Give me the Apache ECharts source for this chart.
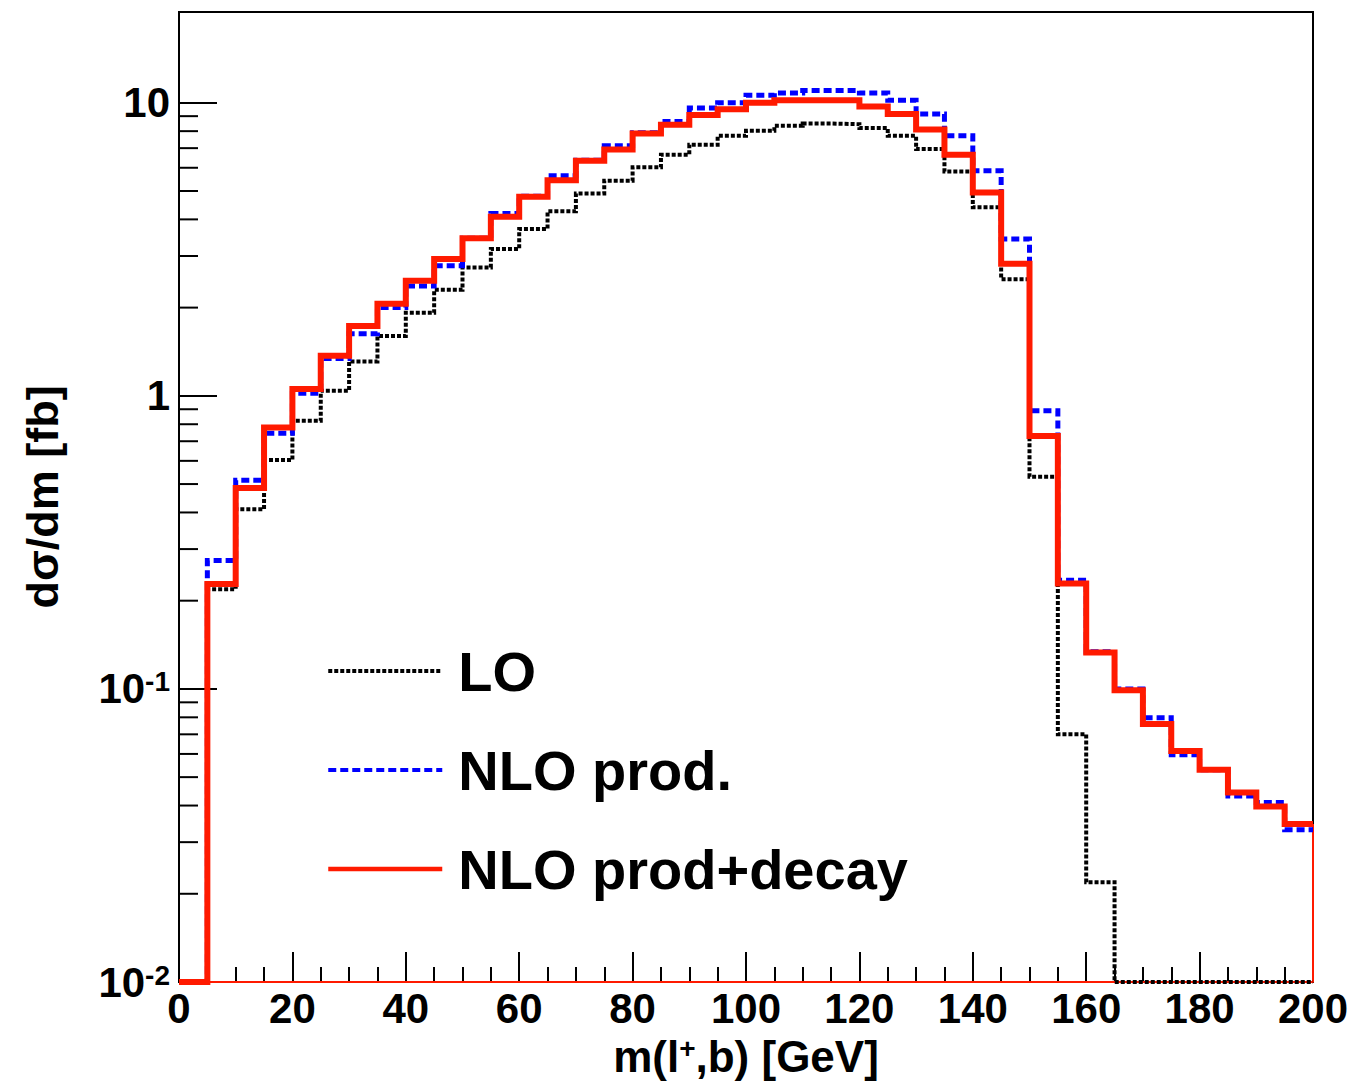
<!DOCTYPE html>
<html>
<head>
<meta charset="utf-8">
<script src="https://cdn.jsdelivr.net/npm/echarts@6/dist/echarts.min.js"></script>
<style>
html,body{margin:0;padding:0;background:#fff;}
#chart{width:1353px;height:1082px;}
</style>
</head>
<body>
<div id="chart"></div>
<script>
// ---- data (bin edges in GeV, dσ/dm in fb per bin) ----
const binEdges = [0,5,10,15,20,25,30,35,40,45,50,55,60,65,70,75,80,85,90,95,100,
                  105,110,115,120,125,130,135,140,145,150,155,160,165,170,175,180,185,190,195,200];
const seriesNames = ['LO', 'NLO prod.', 'NLO prod+decay'];
const loValues = [0, 0.219, 0.41, 0.604, 0.822, 1.04, 1.31, 1.60, 1.92, 2.30,
                  2.74, 3.17, 3.71, 4.26, 4.90, 5.42, 6.02, 6.65, 7.19, 7.71,
                  8.02, 8.34, 8.49, 8.45, 8.20, 7.71, 6.95, 5.83, 4.40, 2.50,
                  0.530, 0.070, 0.0219, 0, 0, 0, 0, 0, 0, 0];
const nloProdValues = [0, 0.274, 0.515, 0.745, 1.02, 1.34, 1.63, 2.0, 2.37, 2.78,
                  3.45, 4.19, 4.80, 5.64, 6.36, 7.13, 7.90, 8.63, 9.6, 10.0,
                  10.6, 10.8, 11.0, 11.0, 10.8, 10.2, 9.15, 7.71, 5.86, 3.43,
                  0.889, 0.235, 0.134, 0.100, 0.0798, 0.0596, 0.0530, 0.0431, 0.0410, 0.0331];
const nloDecayValues = [0, 0.228, 0.485, 0.78, 1.055, 1.37, 1.73, 2.06, 2.47, 2.93,
                  3.45, 4.08, 4.78, 5.44, 6.34, 6.92, 7.85, 8.41, 9.08, 9.51,
                  10.0, 10.2, 10.2, 10.2, 9.7, 9.15, 8.1, 6.65, 4.94, 2.82,
                  0.73, 0.229, 0.133, 0.099, 0.0759, 0.0614, 0.0530, 0.0443, 0.0397, 0.0346];
const xTickLabels = ['0','20','40','60','80','100','120','140','160','180','200'];
const yMin = 0.01, yMax = 20.4;

const FONT = '"Liberation Sans", Arial, Helvetica, sans-serif';
const RED = '#ff1a00', BLUE = '#0000ff', BLACK = '#000000';

function steps(vals){
  const pts = [];
  for (let i = 0; i < vals.length; i++){
    const v = Math.max(vals[i], yMin);
    pts.push([binEdges[i], v], [binEdges[i+1], v]);
  }
  return pts;
}

// minor ticks of the log axis (2..9 per decade)
const minorY = [];
for (let e = -2; e <= 1; e++){
  for (let m = 2; m <= 9; m++){
    const v = m * Math.pow(10, e);
    if (v < yMax * 0.97) minorY.push([0, v]);
  }
}

const lastIdx = nloDecayValues.length - 1;

const chart = echarts.init(document.getElementById('chart'), null, {renderer: 'svg'});
chart.setOption({
  animation: false,
  backgroundColor: '#fff',
  grid: {left: 179, right: 40, top: 12, bottom: 100, show: true,
         borderColor: '#000', borderWidth: 2, backgroundColor: 'transparent',
         containLabel: false, outerBoundsMode: 'none'},
  legend: {
    data: [
      {name: seriesNames[0], lineStyle: {width: 4, type: [4, 2], color: BLACK}},
      {name: seriesNames[1], lineStyle: {width: 4, type: [8, 4], color: BLUE}},
      {name: seriesNames[2], lineStyle: {width: 4.5, type: 'solid', color: RED}}
    ],
    orient: 'vertical',
    left: 321, top: 638,
    itemWidth: 114, itemHeight: 20, itemGap: 43,
    selectedMode: false,
    itemStyle: {opacity: 0, color: 'rgba(0,0,0,0)', borderWidth: 0},
    lineStyle: {width: 'inherit'},
    formatter: n => '{t|' + n + '}',
    textStyle: {rich: {t: {fontSize: 56, fontWeight: 'bold', color: '#000', fontFamily: FONT,
                           padding: [0, 0, 0, 11], lineHeight: 62}}}
  },
  xAxis: {
    type: 'value', min: 0, max: 200, interval: 20,
    axisLine: {onZero: false, lineStyle: {color: '#000', width: 2}},
    axisTick: {inside: true, length: 30, lineStyle: {color: '#000', width: 2}},
    minorTick: {show: true, splitNumber: 4, length: 15, lineStyle: {color: '#000', width: 2}},
    splitLine: {show: false},
    axisLabel: {
      margin: 5, color: '#000', fontSize: 42, fontWeight: 'bold', fontFamily: FONT,
      formatter: v => xTickLabels[Math.round(v / 20)] ?? ''
    },
    name: 'm(l{s|+},b) [GeV]',
    nameLocation: 'middle', nameGap: 52,
    nameTextStyle: {color: '#000', fontSize: 44, fontWeight: 'bold', fontFamily: FONT, verticalAlign: 'top',
      rich: {s: {fontSize: 28, fontWeight: 'bold', fontFamily: FONT, color: '#000', verticalAlign: 'top'}}}
  },
  yAxis: {
    type: 'log', logBase: 10, min: yMin, max: yMax,
    axisLine: {onZero: false, lineStyle: {color: '#000', width: 2}},
    axisTick: {inside: true, length: 38, lineStyle: {color: '#000', width: 2}},
    splitLine: {show: false},
    axisLabel: {
      margin: 9, color: '#000', fontSize: 42, fontWeight: 'bold', fontFamily: FONT,
      showMaxLabel: false,
      formatter: function(v){
        const l = Math.log10(v), e = Math.round(l);
        if (Math.abs(l - e) > 1e-6) return '';
        if (e === 0) return '1';
        if (e === 1) return '10';
        return '10{s|' + e + '}';
      },
      rich: {s: {fontSize: 28, fontWeight: 'bold', fontFamily: FONT, color: '#000', verticalAlign: 'top'}}
    },
    name: 'dσ/dm [fb]',
    nameLocation: 'middle', nameGap: 114,
    nameTextStyle: {color: '#000', fontSize: 45, fontWeight: 'bold', fontFamily: FONT}
  },
  series: [
    {
      name: 'closure', type: 'line', symbol: 'none', silent: true, z: 1,
      data: [[binEdges[binEdges.length-1], Math.max(nloDecayValues[lastIdx], yMin)],
             [binEdges[binEdges.length-1], yMin], [binEdges[0], yMin]],
      lineStyle: {color: RED, width: 2}
    },
    {
      name: 'yminor', type: 'custom', silent: true, z: 5,
      data: minorY,
      renderItem: function(params, api){
        const p = api.coord([0, api.value(1)]);
        return {type: 'line', shape: {x1: p[0], y1: p[1], x2: p[0] + 19, y2: p[1]},
                style: {stroke: '#000', lineWidth: 2}};
      }
    },
    {
      name: 'LO', type: 'line', symbol: 'none', z: 2, data: steps(loValues),
      lineStyle: {color: BLACK, width: 4, type: [4, 2], cap: 'butt', join: 'miter'},
      itemStyle: {color: BLACK}
    },
    {
      name: 'NLO prod.', type: 'line', symbol: 'none', z: 3, data: steps(nloProdValues),
      lineStyle: {color: BLUE, width: 5, type: [8, 4], cap: 'butt', join: 'miter'},
      itemStyle: {color: BLUE}
    },
    {
      name: 'NLO prod+decay', type: 'line', symbol: 'none', z: 4, data: steps(nloDecayValues),
      lineStyle: {color: RED, width: 6, cap: 'butt', join: 'miter'},
      itemStyle: {color: RED}
    }
  ]
});
</script>
</body>
</html>
